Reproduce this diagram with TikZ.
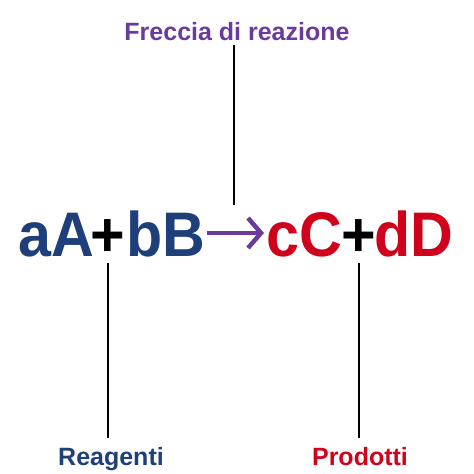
\documentclass[tikz,border=0pt]{standalone}
\usepackage{fontspec}
\setmainfont{Liberation Sans}
\newfontfamily\speciesfont{Liberation Sans}[FakeStretch=0.94]
\usetikzlibrary{arrows.meta}
\definecolor{reagblue}{HTML}{1F3F7A}
\definecolor{prodred}{HTML}{D0011B}
\definecolor{freccia}{HTML}{6A3A9C}
\tikzstyle{label} = [inner sep=0pt,anchor=base,font=\fontsize{25}{28}\selectfont\bfseries]
\tikzstyle{species} = [inner sep=0pt,anchor=base,font=\speciesfont\fontsize{63}{70}\selectfont\bfseries]
\tikzstyle{pointer} = [line width=1.8pt,black]

\begin{document}
\begin{tikzpicture}[x=1pt,y=-1pt]
    \useasboundingbox (0,0) rectangle (474,474);

    % Label in alto
    \node[label,text=freccia] (frec) at (237,40) {Freccia di reazione};

    % Equazione
    \node[species,text=reagblue] (aA) at (56,256) {aA};
    \node[species,text=black] (plus1) at (108,256) {+};
    \node[species,text=reagblue] (bB) at (166,256) {bB};
    \node[species,text=prodred] (cC) at (304,256) {cC};
    \node[species,text=black] (plus2) at (359,256) {+};
    \node[species,text=prodred] (dD) at (414,256) {dD};
    \coordinate (arrL) at (207,233);
    \coordinate (arrR) at (264,233);
    \coordinate (arrtop) at (234,205);

    % Label in basso
    \node[label,text=reagblue] (reag) at (111,465) {Reagenti};
    \node[label,text=prodred] (prod) at (360,465) {Prodotti};

    % freccia
    \draw[freccia,line width=4.5pt,-{Straight Barb[length=13pt,width=30pt,line width=4.5pt]}] (arrL) -- (arrR);

    % linee
    \draw[pointer,shorten <=5pt] (frec.south -| arrtop) -- (arrtop);
    \draw[pointer,shorten <=7pt,shorten >=9pt] (plus1.base) -- (plus1.base |- reag.north);
    \draw[pointer,shorten <=7pt,shorten >=9pt] (plus2.base) -- (plus2.base |- prod.north);
\end{tikzpicture}
\end{document}
